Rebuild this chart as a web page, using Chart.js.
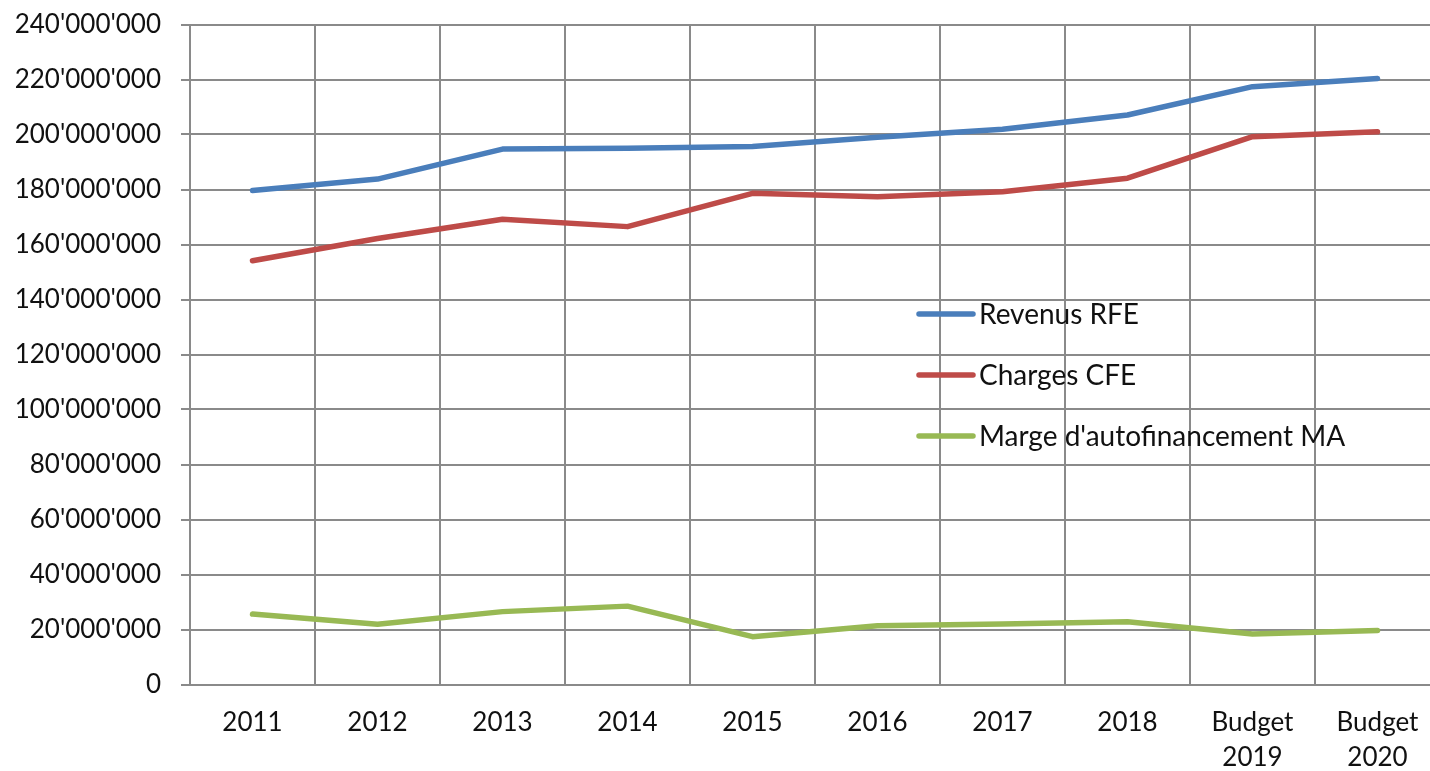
<!DOCTYPE html>
<html>
<head>
<meta charset="utf-8">
<script src="https://cdn.jsdelivr.net/npm/chart.js@4"></script>
<style>
  html, body { margin: 0; padding: 0; background: #fff; overflow: hidden; }
  #chart { position: absolute; left: 0; top: 0; }
</style>
</head>
<body>
<canvas id="chart" width="1450" height="771"></canvas>
<script>
// categories and series
const categories = ['2011', '2012', '2013', '2014', '2015', '2016', '2017', '2018', ['Budget', '2019'], ['Budget', '2020']];
const revenus = [179.6e6, 183.8e6, 194.7e6, 195.0e6, 195.6e6, 199.0e6, 201.9e6, 207.1e6, 217.4e6, 220.4e6];
const charges = [154.1e6, 162.2e6, 169.2e6, 166.5e6, 178.6e6, 177.4e6, 179.2e6, 184.1e6, 199.2e6, 201.0e6];
const marge = [25.6e6, 21.9e6, 26.5e6, 28.5e6, 17.4e6, 21.4e6, 22.0e6, 22.8e6, 18.4e6, 19.6e6];
const seriesNames = ['Revenus RFE', 'Charges CFE', "Marge d'autofinancement MA"];
const seriesColors = ['#4a7ebb', '#be4b48', '#98b954'];
const yMin = 0, yMax = 240e6, yStep = 20e6;

const FONT = 'Lato';
const GRID = '#8a8a8a';
const TEXT = '#111';

// format 240000000 -> 240'000'000
function fmt(v) {
    return Math.round(v).toString().replace(/\B(?=(\d{3})+(?!\d))/g, "'");
}

// legend sits inside the plot area, drawn by hand
const legendInside = {
    id: 'legendInside',
    afterDraw(chart) {
        const ctx = chart.ctx;
        ctx.save();
        ctx.font = '28px ' + FONT;
        ctx.textBaseline = 'middle';
        ctx.fillStyle = TEXT;
        chart.data.datasets.forEach((ds, i) => {
            const y = 314 + i * 61;
            ctx.strokeStyle = ds.borderColor;
            ctx.lineWidth = 5.5;
            ctx.lineCap = 'round';
            ctx.beginPath();
            ctx.moveTo(919, y);
            ctx.lineTo(973, y);
            ctx.stroke();
            ctx.fillText(ds.label, 979, y + 1);
        });
        ctx.restore();
    }
};

const datasets = [revenus, charges, marge].map((data, i) => ({
    label: seriesNames[i],
    data: data,
    borderColor: seriesColors[i],
    backgroundColor: seriesColors[i],
    borderWidth: 5.5,
    borderJoinStyle: 'round',
    borderCapStyle: 'round',
    pointRadius: 0,
    tension: 0
}));

new Chart(document.getElementById('chart'), {
    type: 'line',
    data: { labels: categories, datasets: datasets },
    plugins: [legendInside],
    options: {
        responsive: false,
        animation: false,
        devicePixelRatio: 1,
        layout: { padding: { top: 24.5, right: 10, left: 0, bottom: 0 } },
        plugins: {
            legend: { display: false },
            tooltip: { enabled: false }
        },
        scales: {
            x: {
                offset: true,
                grid: { offset: true, color: GRID, lineWidth: 2, drawTicks: false },
                border: { color: GRID, width: 2 },
                ticks: {
                    color: TEXT,
                    font: { family: FONT, size: 26, lineHeight: 1.37 },
                    padding: 20,
                    maxRotation: 0,
                    autoSkip: false
                },
                afterFit(scale) {
                    scale.height = 86.5;
                    scale.paddingLeft = 0;
                    scale.paddingRight = 0;
                }
            },
            y: {
                min: yMin,
                max: yMax,
                grid: { color: GRID, lineWidth: 2, tickLength: 9 },
                border: { color: GRID, width: 2 },
                ticks: {
                    stepSize: yStep,
                    color: TEXT,
                    font: { family: FONT, size: 26 },
                    padding: 20,
                    callback: (v) => fmt(v)
                },
                afterFit(scale) {
                    scale.width = 190;
                    scale.paddingTop = 0;
                    scale.paddingBottom = 0;
                }
            }
        }
    }
});
</script>
</body>
</html>
